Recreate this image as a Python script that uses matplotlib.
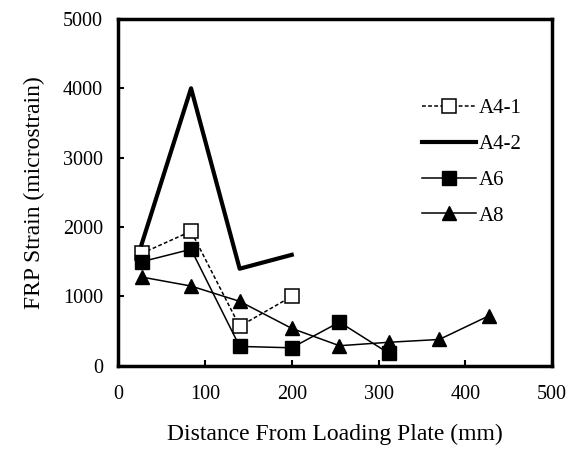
# FRP strain vs distance from loading plate
import matplotlib
matplotlib.use("Agg")
import matplotlib.pyplot as plt

plt.rcParams['font.family'] = ['Liberation Serif', 'DejaVu Serif']

# data
x_a41 = [27, 84, 140, 200]
y_a41 = [1620, 1940, 570, 1000]

x_a42 = [27, 84, 140, 200]
y_a42 = [1750, 4000, 1400, 1600]

x_a6 = [27, 84, 140, 200, 255, 312]
y_a6 = [1500, 1680, 280, 260, 630, 180]

x_a8 = [27, 84, 140, 200, 255, 312, 370, 427]
y_a8 = [1280, 1150, 930, 540, 290, 340, 380, 720]

fig = plt.figure(figsize=(5.68, 4.5), dpi=100)
ax = fig.add_axes([0.208, 0.187, 0.764, 0.771])

ax.plot(x_a41, y_a41, color='black', lw=1.1, ls=(0, (2.5, 1.5)), marker='s',
        ms=10, mfc='white', mec='black', mew=1.1, label='A4-1')
ax.plot(x_a42, y_a42, color='black', lw=3, label='A4-2')
ax.plot(x_a6, y_a6, color='black', lw=1.1, marker='s', ms=10,
        mfc='black', mec='black', label='A6')
ax.plot(x_a8, y_a8, color='black', lw=1.1, marker='^', ms=10,
        mfc='black', mec='black', label='A8')

ax.set_xlim(0, 500)
ax.set_ylim(0, 5000)
ax.set_xticks([0, 100, 200, 300, 400, 500])
ax.set_yticks([0, 1000, 2000, 3000, 4000, 5000])
ax.tick_params(direction='in', length=4, width=1.5, labelsize=14.5, pad=14)
ax.tick_params(axis='y', pad=11)
for s in ax.spines.values():
    s.set_linewidth(2.5)

ax.set_xlabel('Distance From Loading Plate (mm)', fontsize=17, labelpad=14)
ax.set_ylabel('FRP Strain (microstrain)', fontsize=17, labelpad=13)

ax.legend(loc='upper right', bbox_to_anchor=(0.953, 0.80), frameon=False,
          fontsize=15, handlelength=2.6, handletextpad=0.1, labelspacing=0.78,
          borderpad=0)

fig.savefig('out.png', dpi=100)
